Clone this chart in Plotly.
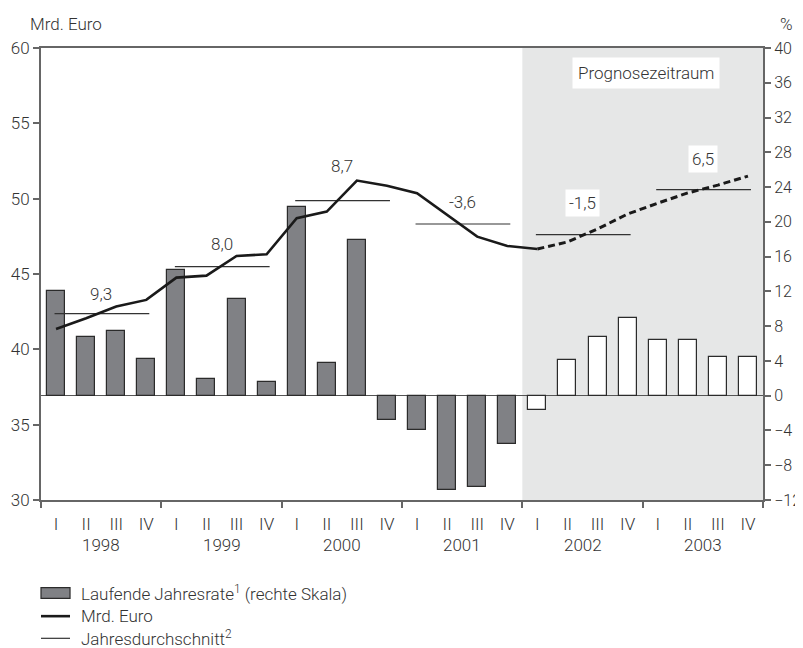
import plotly.graph_objects as go

# quarters 1998 Q1 .. 2003 Q4
years = ["1998", "1999", "2000", "2001", "2002", "2003"]
quarter_labels = ["I", "II", "III", "IV"]

# Laufende Jahresrate (%), right scale
rate = [12.1, 6.7, 7.5, 4.2,
        14.5, 1.9, 11.1, 1.6,
        21.7, 3.8, 17.9, -2.8,
        -4.0, -10.9, -10.5, -5.6,
        -1.7, 4.1, 6.8, 8.9,
        6.4, 6.4, 4.5, 4.5]

# Mrd. Euro, left scale (actual up to 2002 Q1, forecast from 2002 Q1)
mrd_actual = [41.35, 42.06, 42.84, 43.28,
              44.76, 44.89, 46.20, 46.31,
              48.70, 49.14, 51.20, 50.86,
              50.36, 48.92, 47.48, 46.86,
              46.66]
mrd_forecast = [46.66, 47.13, 47.99, 48.98,
                49.70, 50.38, 50.90, 51.50]

# Jahresdurchschnitt (Mrd. Euro) and its growth label per year
year_avg = [42.37, 45.49, 49.87, 48.32, 47.61, 50.60]
avg_labels = ["9,3", "8,0", "8,7", "-3,6", "-1,5", "6,5"]
label_y = [43.7, 47.0, 52.2, 49.8, 49.7, 52.6]

n = len(rate)
xq = [i + 0.5 for i in range(n)]
forecast_start = 16

txt = "#333333"
axc = "#666666"
font = dict(family="Roboto", size=17, color=txt, weight=300)

fig = go.Figure()

# bars: running annual rate
fig.add_trace(go.Bar(
    x=xq, y=rate, width=0.6, yaxis="y",
    marker=dict(
        color=["#808185" if i < forecast_start else "#ffffff" for i in range(n)],
        line=dict(color="#2b2b2b", width=1.2),
    ),
    showlegend=False,
))

# annual averages
ax, ay = [], []
for k, v in enumerate(year_avg):
    ax += [4 * k + 0.45, 4 * k + 3.6, None]
    ay += [v, v, None]
fig.add_trace(go.Scatter(
    x=ax, y=ay, yaxis="y2", mode="lines",
    line=dict(color="#333333", width=1.2), showlegend=False,
))

# Mrd. Euro line
fig.add_trace(go.Scatter(
    x=xq[:len(mrd_actual)], y=mrd_actual, yaxis="y2", mode="lines",
    line=dict(color="#1a1a1a", width=2.6), showlegend=False,
))
fig.add_trace(go.Scatter(
    x=xq[forecast_start:], y=mrd_forecast, yaxis="y2", mode="lines",
    line=dict(color="#1a1a1a", width=3, dash="7px,4px"), showlegend=False,
))

# forecast shading
fig.add_shape(type="rect", xref="x", yref="paper", x0=forecast_start, x1=n,
              y0=0, y1=1, fillcolor="#e6e7e7", line_width=0, layer="below")

ann = []
for k, lab in enumerate(avg_labels):
    a = dict(x=4 * k + 2, y=label_y[k], xref="x", yref="y2", text=lab,
             showarrow=False, font=font, borderpad=3)
    if k >= 4:
        a["bgcolor"] = "#ffffff"
    ann.append(a)
ann.append(dict(x=20.1, y=58.32, xref="x", yref="y2", text="Prognosezeitraum",
                showarrow=False, font=font, bgcolor="#ffffff", borderpad=5))
for k, yr in enumerate(years):
    ann.append(dict(x=4 * k + 2, y=-0.0996, xref="x", yref="paper", text=yr,
                    showarrow=False, font=font, yanchor="middle"))
ann.append(dict(x=-0.018, y=1.053, xref="paper", yref="paper", text="Mrd. Euro",
                showarrow=False, font=font, xanchor="left", yanchor="middle"))
ann.append(dict(x=1.033, y=1.053, xref="paper", yref="paper", text="%",
                showarrow=False, font=font, xanchor="center", yanchor="middle"))

# legend (drawn by hand)
leg_y = [-0.2058, -0.257, -0.306]
leg_text = ["Laufende Jahresrate<sup>1</sup> (rechte Skala)", "Mrd. Euro",
            "Jahresdurchschnitt<sup>2</sup>"]
fig.add_shape(type="rect", xref="paper", yref="paper", x0=0.0, x1=0.0402,
              y0=leg_y[0] - 0.012, y1=leg_y[0] + 0.012,
              fillcolor="#808185", line=dict(color="#2b2b2b", width=1.2))
fig.add_shape(type="line", xref="paper", yref="paper", x0=0.0, x1=0.0402,
              y0=leg_y[1], y1=leg_y[1], line=dict(color="#1a1a1a", width=2.6))
fig.add_shape(type="line", xref="paper", yref="paper", x0=0.0, x1=0.0402,
              y0=leg_y[2], y1=leg_y[2], line=dict(color="#333333", width=1.2))
for yv, t in zip(leg_y, leg_text):
    ann.append(dict(x=0.052, y=yv, xref="paper", yref="paper", text=t,
                    showarrow=False, font=font,
                    xanchor="left", yanchor="middle"))

# the page adds an 8px body margin, so the figure is 8px smaller
fig.update_layout(
    width=795, height=640,
    margin=dict(l=33, r=40, t=40, b=148),
    plot_bgcolor="#ffffff", paper_bgcolor="#ffffff",
    font=font,
    bargap=0,
    annotations=ann,
    xaxis=dict(
        range=[0, n], tickmode="array", tickvals=xq,
        ticktext=quarter_labels * len(years), ticks="", ticklabelstandoff=8,
        showline=True, linecolor=axc, linewidth=2, mirror=True, automargin=False,
        showgrid=False, zeroline=False, tickfont=font,
        minor=dict(tickmode="linear", tick0=0, dtick=4, ticks="outside",
                   ticklen=6, tickcolor=axc, tickwidth=1.5, showgrid=False),
    ),
    yaxis=dict(
        range=[-12, 40], dtick=4, side="right", ticks="outside", ticklen=6,
        tickcolor=axc, tickwidth=1.5, showline=True, linecolor=axc, linewidth=2,
        showgrid=False, zeroline=True, zerolinecolor="#555555", zerolinewidth=1.2,
        tickfont=dict(family="Roboto", size=16, color=txt, weight=300),
        automargin=False,
    ),
    yaxis2=dict(
        range=[30, 60], dtick=5, side="left", overlaying="y", ticks="outside",
        ticklen=6, tickcolor=axc, tickwidth=1.5, showline=True, linecolor=axc,
        linewidth=2, showgrid=False, zeroline=False, tickfont=font, automargin=False,
    ),
)

fig.write_html("out.html")
